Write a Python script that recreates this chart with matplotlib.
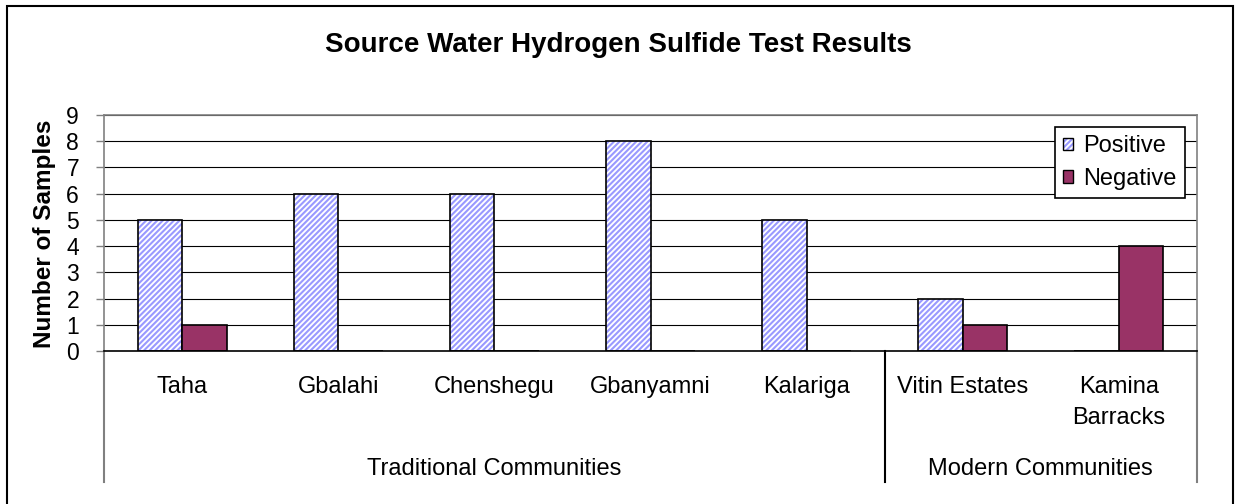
import numpy as np
import matplotlib
matplotlib.use("Agg")
import matplotlib.pyplot as plt
from matplotlib.patches import Patch, Rectangle
import matplotlib.transforms as mtransforms

plt.rcParams['font.family'] = ['Liberation Sans', 'DejaVu Sans']
plt.rcParams['hatch.linewidth'] = 1.5

# data
communities = ["Taha", "Gbalahi", "Chenshegu", "Gbanyamni", "Kalariga",
               "Vitin Estates", "Kamina\nBarracks"]
positive = [5, 6, 6, 8, 5, 2, 0]
negative = [1, 0, 0, 0, 0, 1, 4]
groups = ["Traditional Communities", "Modern Communities"]
group_sizes = [5, 2]
y_ticks = list(range(0, 10))

pos_color = "#9999FF"
neg_color = "#993366"

W, H = 1236, 504
fig = plt.figure(figsize=(W / 100, H / 100), dpi=100)
# plot area in pixels: x 104..1197, y 115..351
ax = fig.add_axes([104 / W, 1 - 351 / H, (1197 - 104) / W, (351 - 115) / H])

x = np.arange(len(communities))
bw = 0.285

# positive bars: hatch first, then black outline
ax.bar(x - bw / 2, positive, bw, facecolor="white", edgecolor=pos_color,
       hatch="//////", linewidth=0, zorder=3)
ax.bar(x - bw / 2, positive, bw, fill=False, edgecolor="black",
       linewidth=1.2, zorder=4)
ax.bar(x + bw / 2, negative, bw, color=neg_color, edgecolor="black",
       linewidth=1.2, zorder=4)

ax.set_xlim(-0.5, len(communities) - 0.5)
ax.set_ylim(0, 9)
ax.set_yticks(y_ticks)
ax.yaxis.grid(True, color="black", linewidth=0.8)
ax.set_axisbelow(True)

for s in ["left", "top", "right"]:
    ax.spines[s].set_color("#808080")
    ax.spines[s].set_linewidth(1.2)
ax.spines["bottom"].set_color("black")
ax.spines["bottom"].set_linewidth(1.2)
ax.spines["bottom"].set_zorder(5)

ax.tick_params(axis="y", direction="out", length=6, width=1, color="#808080",
               labelsize=16.5, pad=12)
ax.set_xticks(x)
ax.set_xticklabels(communities, fontsize=17)
ax.tick_params(axis="x", length=0, pad=18)
for lab in ax.get_xticklabels():
    lab.set_linespacing(1.5)

# group separator lines below the axis
trans = mtransforms.blended_transform_factory(ax.transData, ax.transAxes)
y_low = (351 - 482) / (351 - 115)
edges = np.concatenate([[0], np.cumsum(group_sizes)]) - 0.5
sep_colors = ["#808080", "black", "#808080"]
for e, c in zip(edges, sep_colors):
    ax.plot([e, e], [0, y_low], transform=trans, color=c, linewidth=1.5,
            clip_on=False, zorder=1)

# group labels
for i, g in enumerate(groups):
    mid = (edges[i] + edges[i + 1]) / 2
    ax.text(mid, (351 - 475) / (351 - 115), g, transform=trans, ha="center",
            va="baseline", fontsize=17)

fig.text(0.5, 1 - 52 / H, "Source Water Hydrogen Sulfide Test Results",
         ha="center", va="baseline", fontsize=20, fontweight="bold")
fig.text(45 / W, 1 - 234 / H, "Number of Samples", rotation=90,
         ha="center", va="center", fontsize=17.5, fontweight="bold")

pos_handle = (Patch(facecolor="white", edgecolor=pos_color, hatch="//////", linewidth=0),
              Patch(fill=False, edgecolor="black", linewidth=1))
neg_handle = Patch(facecolor=neg_color, edgecolor="black", linewidth=1)
leg = ax.legend([pos_handle, neg_handle], ["Positive", "Negative"], loc="upper right",
                bbox_to_anchor=((1185 - 104) / 1093, (351 - 127) / 236),
                borderaxespad=0, fontsize=17, handlelength=0.42,
                handleheight=0.42, handletextpad=0.45, borderpad=0.35,
                labelspacing=0.45, fancybox=False, framealpha=1)
leg.get_frame().set_edgecolor("black")
leg.get_frame().set_linewidth(1.2)
leg.set_zorder(6)

# outer chart border
fig.patches.append(Rectangle((7 / W, -0.1), (1233 - 7) / W, 1.1 - 6 / H,
                             transform=fig.transFigure, fill=False,
                             edgecolor="black", linewidth=1.5))

fig.savefig("out.png", dpi=100)
